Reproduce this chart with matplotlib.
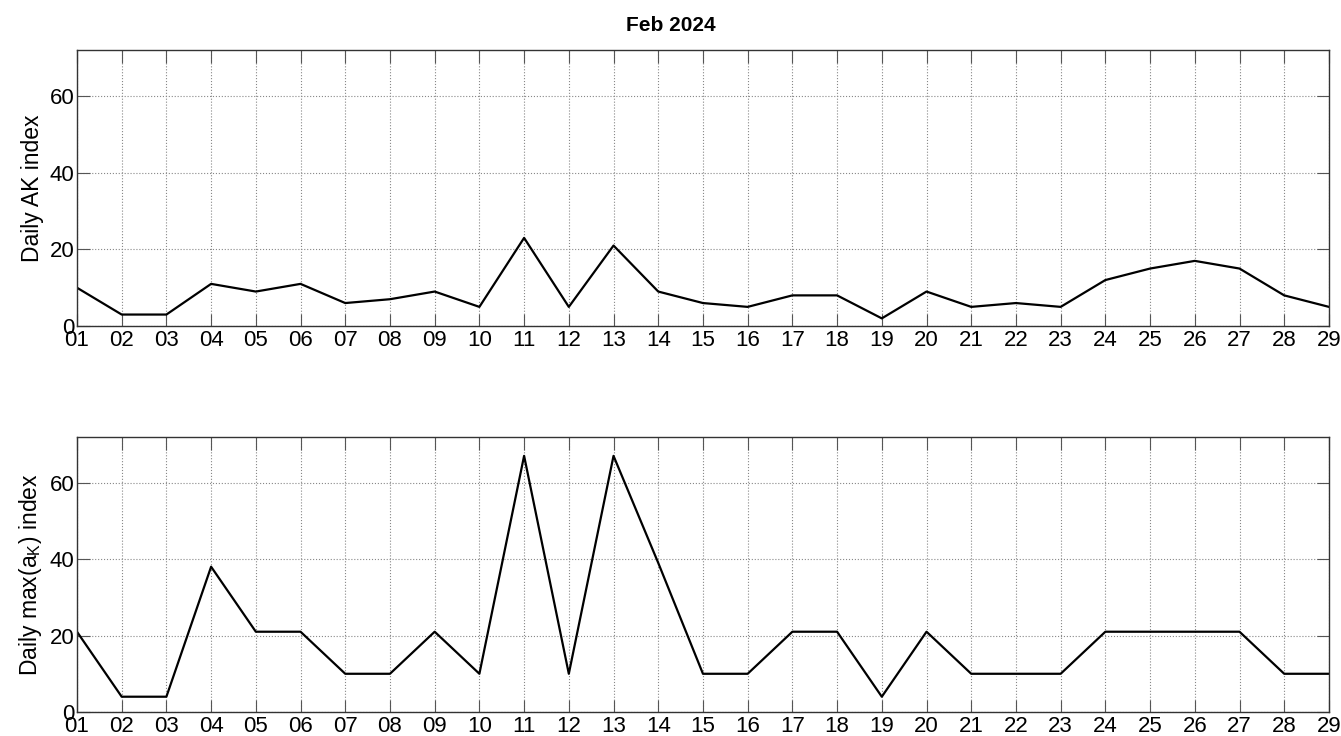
import matplotlib
matplotlib.use('Agg')
import matplotlib.pyplot as plt

plt.rcParams['font.family'] = ['Liberation Sans', 'DejaVu Sans']
plt.rcParams['mathtext.fontset'] = 'custom'
plt.rcParams['mathtext.rm'] = 'Liberation Sans'
plt.rcParams['mathtext.it'] = 'Liberation Sans'

# ── Data (Feb 2024) ──────────────────────────────────────────────────────────
days = list(range(1, 30))
day_labels = [f'{d:02d}' for d in days]

ak_index = [10, 3, 3, 11, 9, 11, 6, 7, 9, 5, 23, 5, 21, 9, 6, 5, 8, 8, 2, 9,
            5, 6, 5, 12, 15, 17, 15, 8, 5]
max_ak = [21, 4, 4, 38, 21, 21, 10, 10, 21, 10, 67, 10, 67, 39, 10, 10, 21, 21, 4, 21,
          10, 10, 10, 21, 21, 21, 21, 10, 10]

yticks = [0, 20, 40, 60]

fig = plt.figure(figsize=(13.41, 7.36), dpi=100)
ax1 = fig.add_axes([0.0574, 0.557, 0.9336, 0.375])
ax2 = fig.add_axes([0.0574, 0.0326, 0.9336, 0.374])


def style(ax, values, ylabel):
    ax.plot(days, values, color='black', linewidth=1.6)
    ax.set_xlim(1, 29)
    ax.set_ylim(0, 72)
    ax.set_xticks(days)
    ax.set_xticklabels(day_labels)
    ax.set_yticks(yticks)
    ax.tick_params(direction='in', length=9, width=0.8, top=True, right=True,
                   labelsize=16, colors='#555555', labelcolor='black')
    ax.tick_params(axis='x', pad=3)
    ax.tick_params(axis='y', pad=2)
    ax.grid(True, linestyle=':', color='#888888', linewidth=0.8)
    for sp in ax.spines.values():
        sp.set_color('#333333')
        sp.set_linewidth(1.0)
    ax.set_ylabel(ylabel, fontsize=16.5, labelpad=4)


style(ax1, ak_index, 'Daily AK index')
style(ax2, max_ak, r'Daily max(a$_{\mathrm{K}}$) index')

fig.text(0.5, 0.966, 'Feb 2024', fontsize=15, fontweight='bold',
         ha='center', va='center')

fig.savefig('out.png', dpi=100)
